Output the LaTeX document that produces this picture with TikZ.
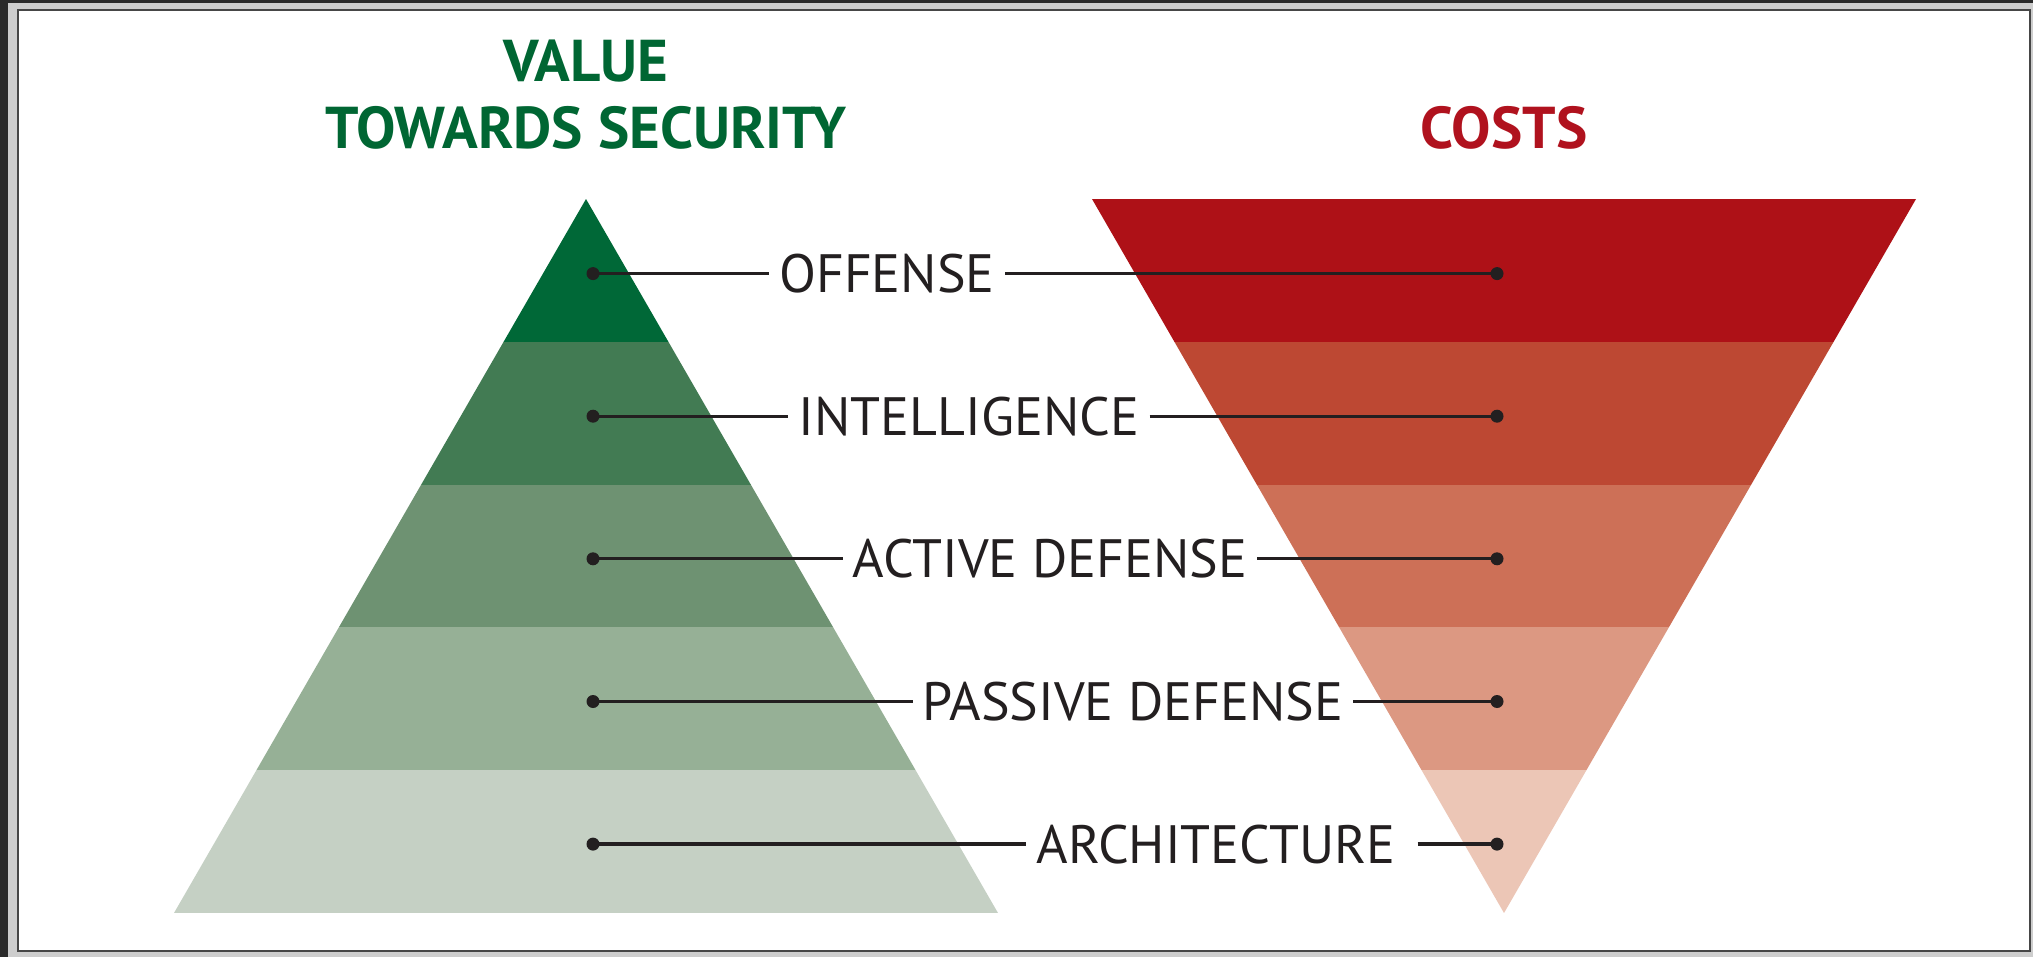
\documentclass[tikz,border=0pt]{standalone}
\usepackage{fontspec}
\setmainfont{PT Sans}
\definecolor{gA}{RGB}{0,104,55}
\definecolor{gB}{RGB}{66,123,83}
\definecolor{gC}{RGB}{110,146,114}
\definecolor{gD}{RGB}{150,176,150}
\definecolor{gE}{RGB}{197,208,196}
\definecolor{rA}{RGB}{174,17,23}
\definecolor{rB}{RGB}{189,72,51}
\definecolor{rC}{RGB}{205,112,87}
\definecolor{rD}{RGB}{220,152,130}
\definecolor{rE}{RGB}{236,198,182}
\definecolor{ink}{RGB}{35,31,32}
\definecolor{headgreen}{RGB}{0,102,51}
\definecolor{headred}{RGB}{176,18,30}
\definecolor{darkbg}{RGB}{42,42,42}
\definecolor{outerbg}{RGB}{205,205,205}
\definecolor{framec}{RGB}{70,70,70}
\begin{document}
\begin{tikzpicture}[x=1pt,y=-1pt,
  lbl/.style={font=\fontsize{54}{60}\selectfont, text=ink, inner sep=10pt},
  conn/.style={draw=ink, line width=3.3pt},
  dotmark/.style={circle, fill=ink, inner sep=0pt, minimum size=13pt},
  headg/.style={font=\bfseries\fontsize{59}{64}\selectfont, text=headgreen, inner sep=0pt},
  headr/.style={font=\bfseries\fontsize{59}{64}\selectfont, text=headred, inner sep=0pt}]
\useasboundingbox (0,0) rectangle (2033,957);
% background and frame
\fill[outerbg] (0,0) rectangle (2033,957);
\fill[darkbg] (0,0) rectangle (8,957);
\fill[darkbg] (0,0) rectangle (2033,3);
\fill[white] (18,10) rectangle (2030,951);
\draw[framec, line width=2.5pt] (18,10) rectangle (2030,951);
% left pyramid
\begin{scope}
  \clip (586,199) -- (998,913) -- (174,913) -- cycle;
  \fill[gA] (100,199) rectangle (1100,342);
  \fill[gB] (100,342) rectangle (1100,485);
  \fill[gC] (100,485) rectangle (1100,627);
  \fill[gD] (100,627) rectangle (1100,770);
  \fill[gE] (100,770) rectangle (1100,913);
\end{scope}
% right inverted pyramid
\begin{scope}
  \clip (1092,199) -- (1916,199) -- (1504,913) -- cycle;
  \fill[rA] (1000,199) rectangle (2000,342);
  \fill[rB] (1000,342) rectangle (2000,485);
  \fill[rC] (1000,485) rectangle (2000,627);
  \fill[rD] (1000,627) rectangle (2000,770);
  \fill[rE] (1000,770) rectangle (2000,913);
\end{scope}
% headings
\node[headg] (hv) at (586,61) {VALUE};
\node[headg] (ht) at (586,128) {TOWARDS SECURITY};
\node[headr] (hc) at (1504,128) {COSTS};
% labels
\node[lbl] (t1) at (887,273.6) {OFFENSE};
\node[lbl] (t2) at (969,416.2) {INTELLIGENCE};
\node[lbl] (t3) at (1050,558.8) {ACTIVE DEFENSE};
\node[lbl] (t4) at (1133,701.5) {PASSIVE DEFENSE};
\node[lbl] (t5) at (1216,844.1) {ARCHITECTURE};
% dots
\foreach \i/\y in {1/273.6,2/416.2,3/558.8,4/701.5,5/844.1}{
  \coordinate (l\i) at (593,\y);
  \coordinate (r\i) at (1497,\y);
}
\foreach \i in {1,...,4}{
  \draw[conn] (l\i) -- (t\i.west);
  \draw[conn] (t\i.east) -- (r\i);
}
\draw[conn] (l5) -- (t5.west);
\draw[conn] ([xshift=12pt]t5.east) -- (r5);
\foreach \i in {1,...,5}{
  \node[dotmark] (ld\i) at (l\i) {};
  \node[dotmark] (rd\i) at (r\i) {};
}
\end{tikzpicture}
\end{document}
